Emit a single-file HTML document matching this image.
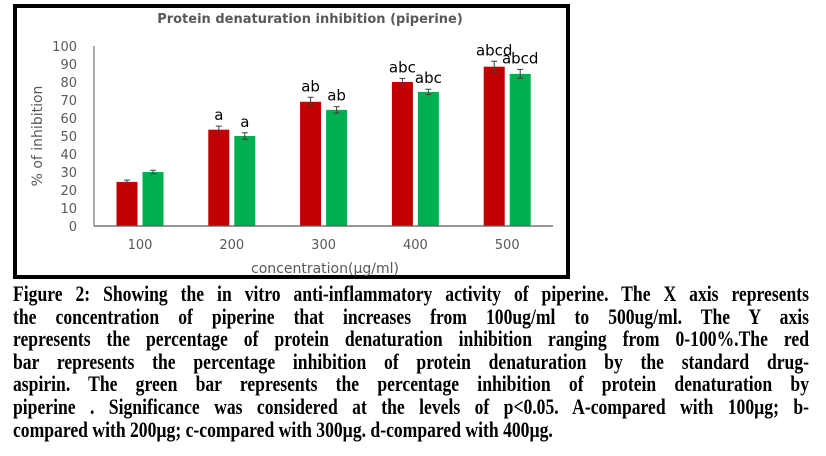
<!DOCTYPE html>
<html><head><meta charset="utf-8"><style>
body{margin:0;width:826px;height:456px;background:#fff;overflow:hidden;position:relative}
#box{position:absolute;left:13px;top:4px;width:549px;height:267px;border:4px solid #000}
#cap{position:absolute;left:13px;top:283px;width:995px;transform:scaleX(0.8);transform-origin:0 0;font-family:"Liberation Serif",serif;font-weight:bold;font-size:22px;line-height:22.6px;color:#000}
#cap div{text-align:justify;text-align-last:justify;white-space:nowrap}
#cap div.last{text-align-last:left}
</style></head><body>
<div id="box"></div>
<svg id="chart" width="826" height="280" style="position:absolute;left:0;top:0"></svg>
<div id="cap">
<div>Figure 2: Showing the in vitro anti-inflammatory activity of piperine. The X axis represents</div>
<div>the concentration of piperine that increases from 100ug/ml to 500ug/ml. The Y axis</div>
<div>represents the percentage of protein denaturation inhibition ranging from 0-100%.The red</div>
<div>bar represents the percentage inhibition of protein denaturation by the standard drug-</div>
<div>aspirin. The green bar represents the percentage inhibition of protein denaturation by</div>
<div>piperine . Significance was considered at the levels of p&lt;0.05. A-compared with 100µg; b-</div>
<div class="last">compared with 200µg; c-compared with 300µg. d-compared with 400µg.</div>
</div>
<script>
const categories=["100","200","300","400","500"];
const aspirin=[24.5,53.5,69,80,88.5];
const piperine=[30,50,64.5,74.5,84.5];
const aspirinErr=[1,2,2.5,2,3];
const piperineErr=[1,1.8,1.8,1.5,2.5];
const aspirinSig=["","a","ab","abc","abcd"];
const piperineSig=["","a","ab","abc","abcd"];
const yTicks=[0,10,20,30,40,50,60,70,80,90,100];

const svg=document.getElementById('chart');
const NS="http://www.w3.org/2000/svg";
const x0=94,x1=553,yTop=46,yBot=226;
function y(v){return yBot-(v/100)*(yBot-yTop);}
function band(i){return 140+i*91.8;}
function mk(tag,attrs,txt){const e=document.createElementNS(NS,tag);for(const k in attrs)e.setAttribute(k,attrs[k]);if(txt!==undefined)e.textContent=txt;svg.appendChild(e);return e;}
const F='"DejaVu Sans","Liberation Sans",sans-serif';
let t=mk('text',{x:310,y:23,'text-anchor':'middle','font-family':F,'font-size':13,'font-weight':'bold',fill:'#595959'},'Protein denaturation inhibition (piperine)');


yTicks.forEach(v=>{
 const l=mk('text',{x:77,y:y(v)+5,'text-anchor':'end','font-family':F,'font-size':13,fill:'#595959'},String(v));
 
 
});
let yt=mk('text',{x:0,y:0,transform:'translate(42,136) rotate(-90)','text-anchor':'middle','font-family':F,'font-size':14,fill:'#595959'},'% of inhibition');


let ya=mk('line',{x1:x0,y1:yTop,x2:x0,y2:yBot,stroke:'#595959','stroke-width':1});


function bar(v,err,sig,xl,color,name){
 const r=mk('rect',{x:xl,y:y(v),width:21,height:yBot-y(v),fill:color});
 
 
 const c=xl+10.5;
 const g=mk('path',{d:`M${c},${y(v+err)}V${y(v-err)}M${c-3},${y(v+err)}H${c+3}M${c-3},${y(v-err)}H${c+3}`,stroke:'#404040','stroke-width':1,fill:'none'});
 
 
 if(sig){const s=mk('text',{x:c,y:y(v+err)-6,'text-anchor':'middle','font-family':F,'font-size':15,fill:'#000'},sig);
 
 }
}
categories.forEach((cat,i)=>{
 const c=band(i);
 bar(aspirin[i],aspirinErr[i],aspirinSig[i],c-23.5,'#c00000','bar-aspirin-'+cat);
 bar(piperine[i],piperineErr[i],piperineSig[i],c+2.5,'#00b050','bar-piperine-'+cat);
 const l=mk('text',{x:c,y:249,'text-anchor':'middle','font-family':F,'font-size':13,fill:'#595959'},cat);
 
 
});
let xa=mk('line',{x1:x0,y1:yBot,x2:x1,y2:yBot,stroke:'#595959','stroke-width':1.2});


let xt=mk('text',{x:325,y:273,'text-anchor':'middle','font-family':F,'font-size':14,fill:'#595959'},'concentration(µg/ml)');


</script>
</body></html>
